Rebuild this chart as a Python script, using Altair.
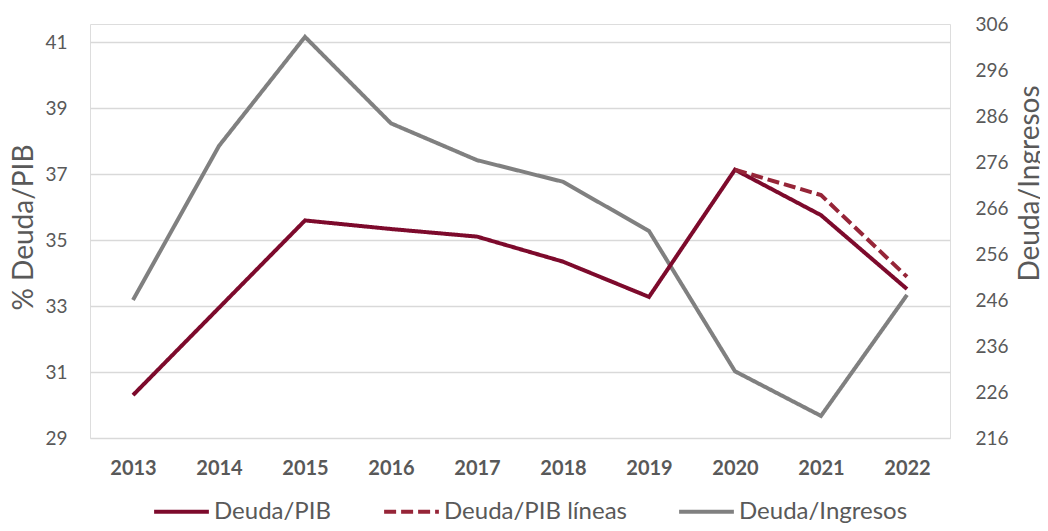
import altair as alt
import pandas as pd

years = ["2013", "2014", "2015", "2016", "2017", "2018", "2019", "2020", "2021", "2022"]
deuda_pib = [30.30, 32.95, 35.60, 35.34, 35.11, 34.35, 33.28, 37.14, 35.76, 33.52]
lineas_years = ["2020", "2021", "2022"]
deuda_pib_lineas = [37.14, 36.37, 33.89]
deuda_ingresos = [246.0, 279.5, 303.2, 284.4, 276.4, 271.7, 261.0, 230.5, 220.8, 247.1]

series_names = ["Deuda/PIB", "Deuda/PIB líneas", "Deuda/Ingresos"]
series_colors = ["#7D0A2C", "#962538", "#808080"]
series_dash = [[1, 0], [12, 5], [1, 0]]

left_ticks = [29, 31, 33, 35, 37, 39, 41]
right_ticks = [216, 226, 236, 246, 256, 266, 276, 286, 296, 306]

left_df = pd.concat([
    pd.DataFrame({"year": years, "value": deuda_pib, "series": series_names[0]}),
    pd.DataFrame({"year": lineas_years, "value": deuda_pib_lineas, "series": series_names[1]}),
])
right_df = pd.DataFrame({"year": years, "value": deuda_ingresos, "series": series_names[2]})

FONT = "Lato"
TXT = "#595959"

x_enc = alt.X(
    "year:O",
    scale=alt.Scale(type="point", padding=0.5, domain=years),
    axis=alt.Axis(
        title=None, labelFont=FONT, labelFontSize=20, labelFontWeight="bold",
        labelColor=TXT, labelPadding=20, ticks=False, domain=False, grid=False,
        labelAngle=0,
    ),
)

legend_cfg = dict(
    title=None, orient="none", direction="horizontal", legendX=62, legendY=458,
    symbolType="stroke", symbolSize=3000, symbolStrokeWidth=4,
    labelFont=FONT, labelFontSize=24, labelColor=TXT, labelOffset=3,
    labelLimit=400, columnPadding=44,
)

color_enc = alt.Color(
    "series:N",
    scale=alt.Scale(domain=series_names, range=series_colors),
    legend=alt.Legend(**legend_cfg),
)
dash_enc = alt.StrokeDash(
    "series:N",
    scale=alt.Scale(domain=series_names, range=series_dash),
    legend=alt.Legend(**legend_cfg),
)

right_layer = alt.Chart(right_df).mark_line(strokeWidth=4, strokeCap="butt").encode(
    x=x_enc,
    y=alt.Y(
        "value:Q",
        scale=alt.Scale(domain=[216, 306], nice=False, zero=False),
        axis=alt.Axis(
            orient="right", values=right_ticks, title="Deuda/Ingresos",
            labelFont=FONT, labelFontSize=19, labelColor=TXT, labelPadding=25,
            ticks=False, domain=False, grid=False,
            titleFont=FONT, titleFontSize=28, titleFontWeight="normal", titleColor=TXT,
            titleAngle=270, titleX=80, titleY=159, titleAlign="center", titleBaseline="middle",
        ),
    ),
    color=color_enc,
    strokeDash=dash_enc,
)

left_layer = alt.Chart(left_df).mark_line(strokeWidth=4, strokeCap="butt").encode(
    x=x_enc,
    y=alt.Y(
        "value:Q",
        scale=alt.Scale(domain=[29, 41.56], nice=False, zero=False),
        axis=alt.Axis(
            orient="left", values=left_ticks, title="% Deuda/PIB",
            labelFont=FONT, labelFontSize=19, labelColor=TXT, labelPadding=23,
            ticks=False, domain=False, grid=True, gridColor="#D9D9D9", gridWidth=1.3,
            titleFont=FONT, titleFontSize=28, titleFontWeight="normal", titleColor=TXT,
            titleAngle=270, titleX=-66, titleY=203, titleAlign="center", titleBaseline="middle",
        ),
    ),
    color=color_enc,
    strokeDash=dash_enc,
    detail="series:N",
)

chart = alt.layer(right_layer, left_layer).resolve_scale(y="independent").properties(
    width=860, height=414,
    autosize=alt.AutoSizeParams(type="none"),
    padding={"left": 82, "top": 16, "right": 90, "bottom": 85},
).configure_view(stroke=None).configure(background="white")

chart.save("out.html", embed_options={"renderer": "svg", "actions": False})
